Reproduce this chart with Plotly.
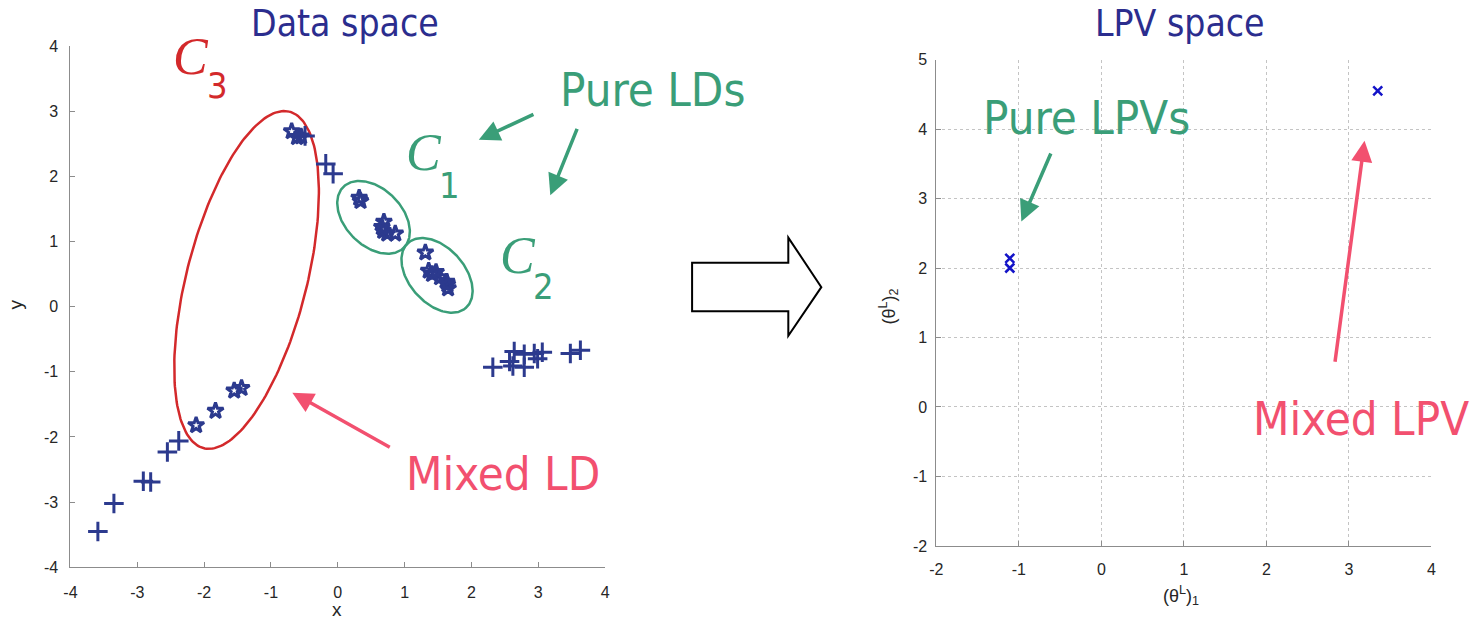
import numpy as np
import plotly.graph_objects as go

W, H = 1478, 624

# ---- Data space samples ----
plus_x = [-3.59, -3.35, -2.91, -2.80, -2.55, -2.38, -0.49, -0.18, -0.07,
          2.32, 2.57, 2.64, 2.62, 2.79, 2.79, 2.94, 3.06, 2.99, 3.48, 3.63]
plus_y = [-3.45, -3.02, -2.68, -2.69, -2.23, -2.06, 2.62, 2.19, 2.04,
          -0.93, -0.84, -0.69, -0.91, -0.73, -0.93, -0.72, -0.70, -0.80, -0.72, -0.67]

star_x = [-0.69, -0.61, -0.55, -2.12, -1.83, -1.55, -1.44,
          0.32, 0.34, 0.69, 0.68, 0.74, 0.86, 0.66,
          1.31, 1.36, 1.41, 1.47, 1.53, 1.63, 1.65, 1.64]
star_y = [2.69, 2.60, 2.61, -1.82, -1.60, -1.29, -1.25,
          1.67, 1.62, 1.30, 1.16, 1.12, 1.12, 1.22,
          0.83, 0.55, 0.50, 0.53, 0.45, 0.38, 0.28, 0.34]

# ---- LPV space samples ----
lpv_x = [-1.11, -1.11, 3.35]
lpv_y = [2.14, 2.00, 4.55]

left_ticks = [-4, -3, -2, -1, 0, 1, 2, 3, 4]
right_xticks = [-2, -1, 0, 1, 2, 3, 4]
right_yticks = [-2, -1, 0, 1, 2, 3, 4, 5]

# cluster outlines: (cx, cy, semi-major, semi-minor, angle deg, colour)
RED = "#d3292b"
GREEN = "#3a9e78"
PINK = "#f2506f"
NAVY = "#2c3a8e"
TITLE = "#2b2d8e"
ellipses = [
    (-1.365, 0.41, 2.66, 0.90, 76.1, RED),
    (0.535, 1.37, 0.65, 0.43, -47.0, GREEN),
    (1.485, 0.48, 0.66, 0.42, -50.0, GREEN),
]


def px(x):
    return x / W


def py(y):
    return 1 - y / H


fig = go.Figure()

t = np.linspace(0, 2 * np.pi, 200)
for cx, cy, a, b, ang, col in ellipses:
    th = np.radians(ang)
    ex = cx + a * np.cos(t) * np.cos(th) - b * np.sin(t) * np.sin(th)
    ey = cy + a * np.cos(t) * np.sin(th) + b * np.sin(t) * np.cos(th)
    fig.add_trace(go.Scatter(x=ex, y=ey, mode="lines", line=dict(color=col, width=2.5),
                             xaxis="x", yaxis="y", hoverinfo="skip"))

fig.add_trace(go.Scatter(x=plus_x, y=plus_y, mode="markers", xaxis="x", yaxis="y",
                         marker=dict(symbol="cross-thin", size=14,
                                     line=dict(color=NAVY, width=3))))
fig.add_trace(go.Scatter(x=star_x, y=star_y, mode="markers", xaxis="x", yaxis="y",
                         marker=dict(symbol="star-open", size=12, color=NAVY,
                                     line=dict(color=NAVY, width=3))))
fig.add_trace(go.Scatter(x=lpv_x, y=lpv_y, mode="markers", xaxis="x2", yaxis="y2",
                         marker=dict(symbol="x-thin", size=9,
                                     line=dict(color="#1414c8", width=2.5))))

axis_common = dict(showline=True, linecolor="#8c8c8c", linewidth=1, ticks="inside",
                   ticklen=5, tickcolor="#8c8c8c", zeroline=False,
                   tickfont=dict(family="Liberation Sans", size=16, color="#262626"))

fig.update_layout(
    width=W, height=H, margin=dict(l=0, r=0, t=0, b=0),
    plot_bgcolor="white", paper_bgcolor="white", showlegend=False,
    xaxis=dict(domain=[px(64), px(603)], range=[-4, 4], anchor="y", showgrid=False,
               tickvals=left_ticks, ticktext=[str(v) for v in left_ticks],
               ticklabelstandoff=10, **axis_common),
    yaxis=dict(domain=[py(575), py(39)], range=[-4, 4], anchor="x", showgrid=False,
               tickvals=left_ticks, ticktext=[str(v) for v in left_ticks],
               ticklabelstandoff=8, **axis_common),
    xaxis2=dict(domain=[px(937), px(1436)], range=[-2, 4], anchor="y2", showgrid=True,
                gridcolor="#c4c4c4", griddash="dot",
                tickvals=right_xticks, ticktext=[str(v) for v in right_xticks],
                ticklabelstandoff=9, **axis_common),
    yaxis2=dict(domain=[py(553), py(53)], range=[-2, 5], anchor="x2", showgrid=True,
                gridcolor="#c4c4c4", griddash="dot",
                tickvals=right_yticks, ticktext=[str(v) for v in right_yticks],
                ticklabelstandoff=5, **axis_common),
)

SANS = "DejaVu Sans Condensed, DejaVu Sans"
ann = []


def text(x, y, s, size, color, family=SANS, **kw):
    ann.append(dict(x=px(x), y=py(y), xref="paper", yref="paper", text=s, showarrow=False,
                    xanchor="center", yanchor="middle",
                    font=dict(family=family, size=size, color=color), **kw))


text(341, 16, "Data space", 37, TITLE)
text(1183, 16, "LPV space", 37, TITLE)
text(651, 84, "Pure LDs", 47, GREEN)
text(500, 479, "Mixed LD", 47, PINK)
text(1088, 113, "Pure LPVs", 47, GREEN)
text(1365, 422, "Mixed LPV", 47, PINK)

SERIF = "Liberation Serif"
text(186, 50, "<i>C</i>", 52, RED, family=SERIF)
text(212, 80, "3", 36, RED)
text(420, 149, "<i>C</i>", 52, GREEN, family=SERIF)
text(446, 182, "1", 36, GREEN)
text(515, 254, "<i>C</i>", 52, GREEN, family=SERIF)
text(541, 286, "2", 36, GREEN)

# axis titles
text(333, 618, "x", 19, "#262626", family="Liberation Sans")
text(9, 305, "y", 19, "#262626", family="Liberation Sans", textangle=-90)
text(1184, 604, "(θ<sup>L</sup>)<sub>1</sub>", 18, "#262626", family="Liberation Sans")
text(889, 307, "(θ<sup>L</sup>)<sub>2</sub>", 18, "#262626", family="Liberation Sans",
     textangle=-90)


def arrow(xref, yref, tip, tail, color):
    ann.append(dict(x=tip[0], y=tip[1], ax=tail[0], ay=tail[1], xref=xref, yref=yref,
                    axref=xref, ayref=yref, text="", showarrow=True, arrowhead=2,
                    arrowsize=1.2, arrowwidth=3.5, arrowcolor=color))


arrow("x", "y", (2.11, 2.56), (2.95, 2.96), GREEN)
arrow("x", "y", (3.18, 1.71), (3.59, 2.75), GREEN)
arrow("x", "y", (-0.68, -1.32), (0.80, -2.17), PINK)
arrow("x2", "y2", (-0.97, 2.67), (-0.605, 3.67), GREEN)
arrow("x2", "y2", (3.19, 3.83), (2.83, 0.63), PINK)

fig.update_layout(annotations=ann)

# hollow block arrow between the two panels
pts = [(690.7, 262), (787.7, 262), (787.7, 236), (821, 287), (787.7, 337),
       (787.7, 311.7), (690.7, 311.7)]
path = "M " + " L ".join(f"{px(a):.5f},{py(b):.5f}" for a, b in pts) + " Z"
fig.add_shape(type="path", path=path, xref="paper", yref="paper",
              line=dict(color="black", width=2), fillcolor="white")

fig.write_html("out.html")
